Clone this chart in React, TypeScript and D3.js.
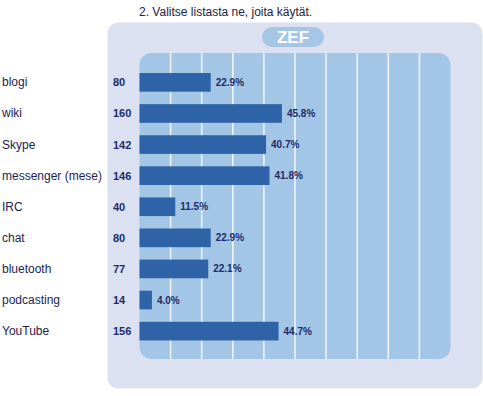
import React, { useEffect, useRef } from "react";
import * as d3 from "d3";

// data
const categories = ["blogi", "wiki", "Skype", "messenger (mese)", "IRC", "chat", "bluetooth", "podcasting", "YouTube"];
const counts = [80, 160, 142, 146, 40, 80, 77, 14, 156];
const percents = [22.9, 45.8, 40.7, 41.8, 11.5, 22.9, 22.1, 4.0, 44.7];
const gridTicks = [10, 20, 30, 40, 50, 60, 70, 80, 90];

const W = 483;
const H = 396;
const font = "'Liberation Sans', Arial, sans-serif";

function App() {
  const svgRef = useRef<SVGSVGElement>(null);

  useEffect(() => {
    const svg = d3.select(svgRef.current);
    svg.selectAll("*").remove();

    const x = d3.scaleLinear().domain([0, 100]).range([139.5, 450.5]);
    const y = d3
      .scaleBand()
      .domain(categories)
      .range([60.6, 352.9])
      .paddingInner(0.4)
      .paddingOuter(0.4);

    // title
    svg.append("text")
      .attr("x", 139)
      .attr("y", 16)
      .attr("font-family", font)
      .attr("font-size", 12)
      .attr("fill", "#1d2340")
      .text("2. Valitse listasta ne, joita käytät.");

    // outer panel
    svg.append("rect")
      .attr("x", 107.5).attr("y", 22.5)
      .attr("width", 375).attr("height", 366)
      .attr("rx", 11)
      .attr("fill", "#dbe1f0");

    // logo pill
    svg.append("rect")
      .attr("x", 262).attr("y", 27)
      .attr("width", 62).attr("height", 20)
      .attr("rx", 10)
      .attr("fill", "#a6c6e6");
    svg.append("text")
      .attr("x", 293).attr("y", 43)
      .attr("text-anchor", "middle")
      .attr("font-family", font)
      .attr("font-weight", "bold")
      .attr("font-size", 17)
      .attr("fill", "#ffffff")
      .text("ZEF");

    // inner plot panel
    svg.append("rect")
      .attr("x", x(0)).attr("y", 53)
      .attr("width", x(100) - x(0)).attr("height", 306)
      .attr("rx", 12)
      .attr("fill", "#a3c5e6");

    // grid lines
    svg.selectAll(".grid")
      .data(gridTicks)
      .join("line")
      .attr("class", "grid")
      .attr("x1", (d) => x(d)).attr("x2", (d) => x(d))
      .attr("y1", 53).attr("y2", 359)
      .attr("stroke", "#eef3fa")
      .attr("stroke-width", 1.6);

    const rows = categories.map((c, i) => ({ c, n: counts[i], p: percents[i] }));

    // bars
    svg.selectAll(".bar")
      .data(rows)
      .join("rect")
      .attr("class", "bar")
      .attr("x", x(0))
      .attr("y", (d) => y(d.c)!)
      .attr("width", (d) => x(d.p) - x(0))
      .attr("height", y.bandwidth())
      .attr("fill", "#2f63a7");

    const mid = (d: any) => y(d.c)! + y.bandwidth() / 2;

    // category labels
    svg.selectAll(".cat")
      .data(rows)
      .join("text")
      .attr("class", "cat")
      .attr("x", 2)
      .attr("y", (d) => mid(d) + 4)
      .attr("font-family", font)
      .attr("font-size", 12)
      .attr("fill", "#1c2452")
      .text((d) => d.c);

    // counts
    svg.selectAll(".cnt")
      .data(rows)
      .join("text")
      .attr("class", "cnt")
      .attr("x", 113)
      .attr("y", (d) => mid(d) + 4)
      .attr("font-family", font)
      .attr("font-size", 11)
      .attr("font-weight", "bold")
      .attr("fill", "#202c68")
      .text((d) => d.n);

    // percents
    svg.selectAll(".pct")
      .data(rows)
      .join("text")
      .attr("class", "pct")
      .attr("x", (d) => x(d.p) + 5)
      .attr("y", (d) => mid(d) + 3.5)
      .attr("font-family", font)
      .attr("font-size", 10)
      .attr("font-weight", "bold")
      .attr("fill", "#202c68")
      .text((d) => d.p.toFixed(1) + "%");
  }, []);

  return (
    <svg
      ref={svgRef}
      width={W}
      height={H}
      style={{ position: "absolute", left: 0, top: 0, background: "#ffffff" }}
    />
  );
}

export default App;
